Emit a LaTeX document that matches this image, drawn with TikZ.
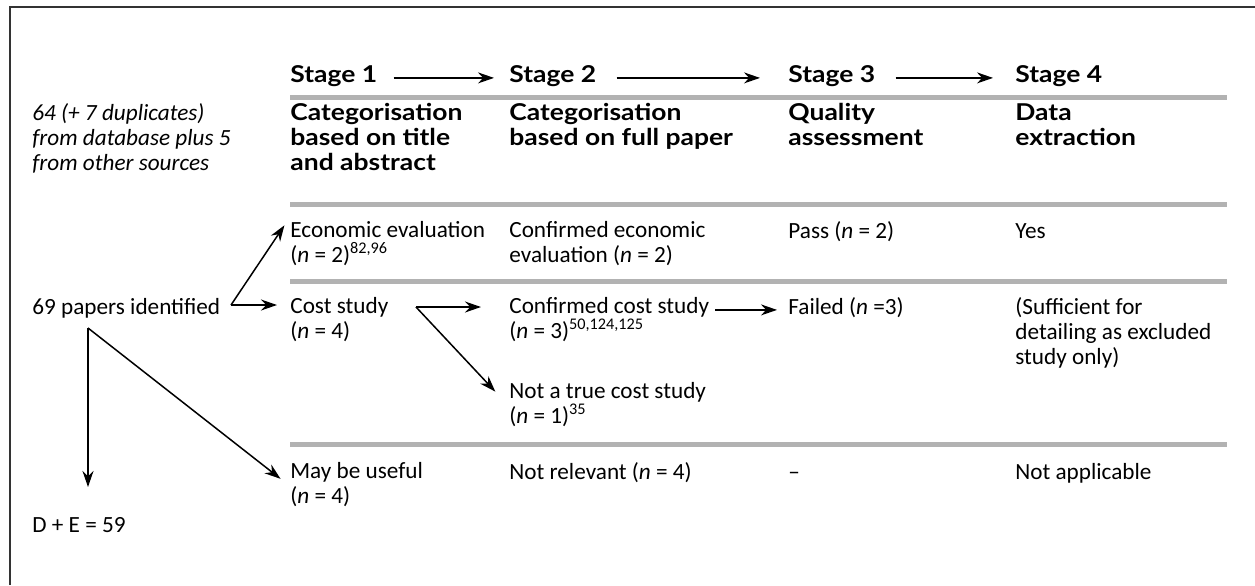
\documentclass[tikz,border=0pt]{standalone}
\usepackage{fontspec}
\setmainfont{Carlito}[BoldFont={Lato Bold}, BoldFeatures={FakeStretch=1.14}]
\usetikzlibrary{arrows.meta, calc}

\begin{document}
\begin{tikzpicture}[x=0.5pt, y=-0.5pt,
    txt/.style={anchor=north west, inner sep=0pt, align=left,
      font=\fontsize{11.6}{12.5}\selectfont, execute at begin node=\strut},
    hd/.style={txt, font=\fontsize{11.6}{12.5}\selectfont\bfseries},
    bar/.style={line width=2.5pt, black!30},
    arr/.style={line width=0.75pt, -{Stealth[length=8pt, width=5.5pt]}}]
  \useasboundingbox (0,0) rectangle (1255,585);
  % frame
  \draw[black!80, line width=1pt] (10,585) -- (10,7) -- (1255,7);

  % stages
  \node[hd] (s1) at (290,65) {Stage 1};
  \node[hd] (s2) at (509,65) {Stage 2};
  \node[hd] (s3) at (788,65) {Stage 3};
  \node[hd] (s4) at (1015,65) {Stage 4};
  \draw[arr, shorten <=8pt, shorten >=7.5pt] (s1) -- (s2);
  \draw[arr, shorten <=10pt, shorten >=14pt] (s2) -- (s3);
  \draw[arr, shorten <=10pt, shorten >=11pt] (s3) -- (s4);

  % rules
  \foreach \y in {97,204,281,444}
    \draw[bar] (290,\y) -- (1227,\y);

  % column heads
  \node[txt, font=\fontsize{11.6}{12.5}\selectfont\itshape] (src) at (32,103)
    {64 (+ 7 duplicates)\\from database plus 5\\from other sources};
  \node[hd] (h1) at (290,103) {Categorisation\\based on title\\and abstract};
  \node[hd] (h2) at (509,103) {Categorisation\\based on full paper};
  \node[hd] (h3) at (788,103) {Quality\\assessment};
  \node[hd] (h4) at (1015,103) {Data\\extraction};

  % economic evaluations
  \node[txt] (econ) at (290,221) {Economic evaluation\\(\textit{n} = 2)\textsuperscript{82,96}};
  \node[txt] (confecon) at (509,221) {Confirmed economic\\evaluation (\textit{n} = 2)};
  \node[txt] (pass) at (788,221) {Pass (\textit{n} = 2)};
  \node[txt] (yes) at (1015,221) {Yes};

  % cost studies
  \node[txt] (papers) at (32,297) {69 papers identified};
  \node[txt] (cost) at (290,297) {Cost study\\(\textit{n} = 4)};
  \node[txt] (confcost) at (509,297) {Confirmed cost study\\(\textit{n} = 3)\textsuperscript{50,124,125}};
  \node[txt] (notcost) at (509,381.5) {Not a true cost study\\(\textit{n} = 1)\textsuperscript{35}};
  \node[txt] (failed) at (788,297) {Failed (\textit{n} =3)};
  \node[txt] (excl) at (1015,297) {(Sufficient for\\detailing as excluded\\study only)};

  % the rest
  \node[txt] (useful) at (290,461.5) {May be useful\\(\textit{n} = 4)};
  \node[txt] (notrel) at (509,461.5) {Not relevant (\textit{n} = 4)};
  \node[txt] (dash) at (788,461.5) {--};
  \node[txt] (notapp) at (1015,461.5) {Not applicable};
  \node[txt] (sum) at (32,515) {D + E = 59};

  % connectors
  \coordinate (fork1) at (231,305);
  \coordinate (fork2) at (88,328);
  \coordinate (fork3) at (416,307);
  \draw[arr, shorten >=5pt] (fork1) -- ($(econ.north west)+(0,-4)$);
  \draw[arr, shorten >=6.5pt] (fork1) -- (fork1 -| cost.west);
  \draw[arr, shorten >=14pt] (fork2) -- (fork2 |- sum.north);
  \draw[arr, shorten >=6pt] (fork2) -- (useful.west);
  \draw[arr, shorten >=14pt] (fork3) -- (fork3 -| confcost.west);
  \draw[arr, shorten >=10pt] (fork3) -- (notcost.west);
  \draw[arr, shorten <=3pt, shorten >=5.5pt] (failed.west -| confcost.east) -- (failed.west);
\end{tikzpicture}
\end{document}
